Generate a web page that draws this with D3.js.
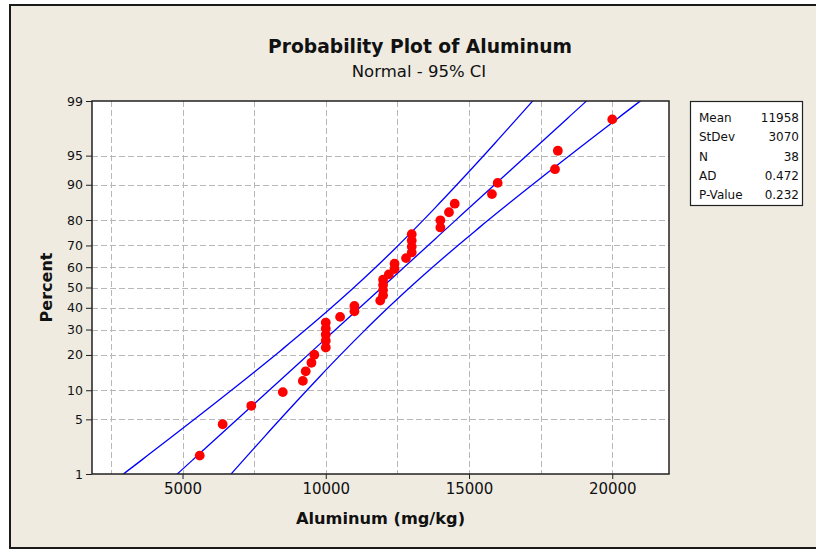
<!DOCTYPE html>
<html>
<head>
<meta charset="utf-8">
<script src="https://cdn.jsdelivr.net/npm/d3@7"></script>
<style>
  html, body { margin: 0; padding: 0; background: #ffffff; }
  svg { display: block; }
</style>
</head>
<body>
<svg id="chart" width="816" height="550"></svg>
<script>
// ---- data ----
const aluminum = [5600, 6400, 7400, 8500, 9200, 9300, 9500, 9600,
  10000, 10000, 10000, 10000, 10000, 10500, 11000, 11000,
  11900, 12000, 12000, 12000, 12000, 12200, 12400, 12400, 12800,
  13000, 13000, 13000, 13000, 14000, 14000, 14300, 14500,
  15800, 16000, 18000, 18100, 20000];
const percents = [1.8, 4.4, 7.0, 9.6, 12.2, 14.8, 17.4, 20.1,
  22.7, 25.3, 27.9, 30.5, 33.1, 35.7, 38.3, 40.9,
  43.5, 46.1, 48.7, 51.3, 53.9, 56.5, 59.1, 61.7, 64.3,
  66.9, 69.5, 72.1, 74.7, 77.3, 79.9, 82.6, 85.2,
  87.8, 90.4, 93.0, 95.6, 98.2];
const xTicks = [5000, 10000, 15000, 20000];
const xGrid = [2500, 5000, 7500, 10000, 12500, 15000, 17500, 20000];
const yTicks = [1, 5, 10, 20, 30, 40, 50, 60, 70, 80, 90, 95, 99];
const yGrid = [5, 10, 20, 30, 40, 50, 60, 70, 80, 90, 95];
const statLabels = ["Mean", "StDev", "N", "AD", "P-Value"];
const statValues = ["11958", "3070", "38", "0.472", "0.232"];
const fitMean = 11958, fitSd = 3070, fitN = 38;

// ---- inverse normal CDF (Acklam) ----
function probit(p) {
  const a = [-3.969683028665376e+01, 2.209460984245205e+02, -2.759285104469687e+02, 1.383577518672690e+02, -3.066479806614716e+01, 2.506628277459239e+00];
  const b = [-5.447609879822406e+01, 1.615858368580409e+02, -1.556989798598866e+02, 6.680131188771972e+01, -1.328068155288572e+01];
  const c = [-7.784894002430293e-03, -3.223964580411365e-01, -2.400758277161838e+00, -2.549732539343734e+00, 4.374664141464968e+00, 2.938163982698783e+00];
  const d = [7.784695709041462e-03, 3.224671290700398e-01, 2.445134137142996e+00, 3.754408661907416e+00];
  const pl = 0.02425, ph = 1 - pl;
  let q, r;
  if (p < pl) {
    q = Math.sqrt(-2 * Math.log(p));
    return (((((c[0]*q+c[1])*q+c[2])*q+c[3])*q+c[4])*q+c[5]) / ((((d[0]*q+d[1])*q+d[2])*q+d[3])*q+1);
  } else if (p <= ph) {
    q = p - 0.5; r = q*q;
    return (((((a[0]*r+a[1])*r+a[2])*r+a[3])*r+a[4])*r+a[5])*q / (((((b[0]*r+b[1])*r+b[2])*r+b[3])*r+b[4])*r+1);
  } else {
    q = Math.sqrt(-2 * Math.log(1 - p));
    return -(((((c[0]*q+c[1])*q+c[2])*q+c[3])*q+c[4])*q+c[5]) / ((((d[0]*q+d[1])*q+d[2])*q+d[3])*q+1);
  }
}

// ---- layout ----
const svg = d3.select("#chart");
const L = 92, R = 669, T = 101, B = 474;
const font = "'DejaVu Sans', Verdana, sans-serif";

svg.append("rect").attr("x", 10).attr("y", 5).attr("width", 830).attr("height", 543)
  .attr("fill", "#efebe1").attr("stroke", "#1a1a1a").attr("stroke-width", 2);

const x = d3.scaleLinear().domain([1840, 21980]).range([L, R]);
const zScale = d3.scaleLinear().domain([probit(0.01), probit(0.99)]).range([B, T]);
const y = p => zScale(probit(p / 100));

svg.append("rect").attr("x", L).attr("y", T).attr("width", R - L).attr("height", B - T)
  .attr("fill", "#ffffff");

svg.append("defs").append("clipPath").attr("id", "clip")
  .append("rect").attr("x", L).attr("y", T).attr("width", R - L).attr("height", B - T);

// grid
const grid = svg.append("g").attr("stroke", "#b8b8b8").attr("stroke-width", 1)
  .attr("stroke-dasharray", "6,3");
grid.selectAll("line.v").data(xGrid).join("line").attr("class", "v")
  .attr("x1", d => Math.round(x(d)) + 0.5).attr("x2", d => Math.round(x(d)) + 0.5)
  .attr("y1", T).attr("y2", B);
grid.selectAll("line.h").data(yGrid).join("line").attr("class", "h")
  .attr("y1", d => Math.round(y(d)) + 0.5).attr("y2", d => Math.round(y(d)) + 0.5)
  .attr("x1", L).attr("x2", R);

// fit line and 95% CI
const zs = d3.range(-3.2, 3.2001, 0.05);
const half = z => 1.96 * fitSd * Math.sqrt(1 / fitN + z * z / (2 * fitN));
const lineGen = d3.line().x(d => x(d[0])).y(d => zScale(d[1]));
const curves = [
  zs.map(z => [fitMean + z * fitSd - half(z), z]),
  zs.map(z => [fitMean + z * fitSd, z]),
  zs.map(z => [fitMean + z * fitSd + half(z), z])
];
const lg = svg.append("g").attr("clip-path", "url(#clip)");
lg.selectAll("path").data(curves).join("path")
  .attr("d", lineGen).attr("fill", "none").attr("stroke", "#0000ff").attr("stroke-width", 1.3);

// points
lg.selectAll("circle").data(aluminum).join("circle")
  .attr("cx", d => x(d)).attr("cy", (d, i) => y(percents[i]))
  .attr("r", 4.9).attr("fill", "#ff0000");

// frame of plot area
svg.append("rect").attr("x", L).attr("y", T).attr("width", R - L).attr("height", B - T)
  .attr("fill", "none").attr("stroke", "#222").attr("stroke-width", 1.5);

// axes
const xAxis = d3.axisBottom(x).tickValues(xTicks).tickSize(5).tickPadding(4).tickFormat(d3.format("d"));
const gx = svg.append("g").attr("transform", `translate(0,${B})`).call(xAxis);
gx.select(".domain").remove();
gx.selectAll("line").attr("stroke", "#222");
gx.selectAll("text").attr("font-family", font).attr("font-size", 15).attr("fill", "#111");

const yAxis = d3.axisLeft(zScale).tickValues(yTicks.map(p => probit(p / 100)))
  .tickSize(6).tickPadding(3).tickFormat((d, i) => yTicks[i]);
const gy = svg.append("g").attr("transform", `translate(${L},0)`).call(yAxis);
gy.select(".domain").remove();
gy.selectAll("line").attr("stroke", "#222");
gy.selectAll("text").attr("font-family", font).attr("font-size", 12.5).attr("fill", "#111");

// titles
svg.append("text").attr("x", 420).attr("y", 53).attr("text-anchor", "middle")
  .attr("font-family", font).attr("font-weight", "bold").attr("font-size", 18.7).attr("fill", "#111")
  .text("Probability Plot of Aluminum");
svg.append("text").attr("x", 419).attr("y", 77).attr("text-anchor", "middle")
  .attr("font-family", font).attr("font-size", 16.5).attr("fill", "#111")
  .text("Normal - 95% CI");
svg.append("text").attr("x", (L + R) / 2).attr("y", 524).attr("text-anchor", "middle")
  .attr("font-family", font).attr("font-weight", "bold").attr("font-size", 16.2).attr("fill", "#111")
  .text("Aluminum (mg/kg)");
svg.append("text").attr("transform", `translate(52,${(T + B) / 2}) rotate(-90)`)
  .attr("text-anchor", "middle")
  .attr("font-family", font).attr("font-weight", "bold").attr("font-size", 16).attr("fill", "#111")
  .text("Percent");

// stats box
const bx = 690, by = 101, bw = 112, bh = 104;
svg.append("rect").attr("x", bx + 0.5).attr("y", by + 0.5).attr("width", bw).attr("height", bh)
  .attr("fill", "#ffffff").attr("stroke", "#222").attr("stroke-width", 1.2);
const rowY = d3.scaleLinear().domain([0, statLabels.length - 1]).range([122, 199]);
svg.append("g").selectAll("text").data(statLabels).join("text")
  .attr("x", bx + 9).attr("y", (d, i) => rowY(i))
  .attr("font-family", font).attr("font-size", 12).attr("fill", "#111").text(d => d);
svg.append("g").selectAll("text").data(statValues).join("text")
  .attr("x", bx + bw - 3).attr("y", (d, i) => rowY(i)).attr("text-anchor", "end")
  .attr("font-family", font).attr("font-size", 12).attr("fill", "#111").text(d => d);
</script>
</body>
</html>
